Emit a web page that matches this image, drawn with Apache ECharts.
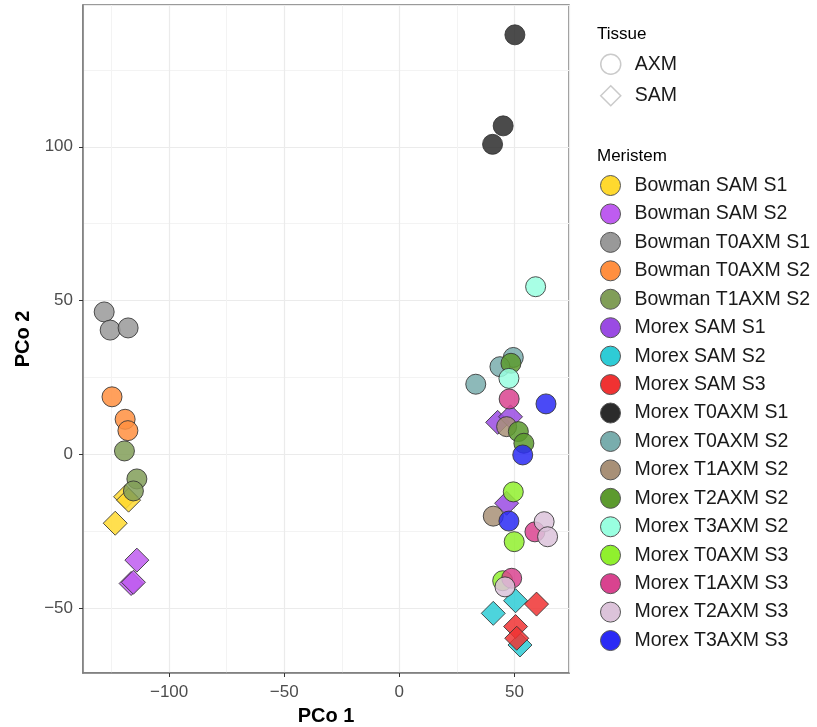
<!DOCTYPE html>
<html>
<head>
<meta charset="utf-8">
<script src="https://cdn.jsdelivr.net/npm/echarts@6/dist/echarts.min.js"></script>
<style>
  html, body { margin: 0; padding: 0; background: #fff; }
  #chart { width: 817px; height: 727px; }
</style>
</head>
<body>
<div id="chart"></div>
<script>
// meristem groups, in legend order
const meristems = [
  'Bowman SAM S1', 'Bowman SAM S2', 'Bowman T0AXM S1', 'Bowman T0AXM S2', 'Bowman T1AXM S2',
  'Morex SAM S1', 'Morex SAM S2', 'Morex SAM S3', 'Morex T0AXM S1', 'Morex T0AXM S2',
  'Morex T1AXM S2', 'Morex T2AXM S2', 'Morex T3AXM S2', 'Morex T0AXM S3', 'Morex T1AXM S3',
  'Morex T2AXM S3', 'Morex T3AXM S3'
];
const colors = [
  '#FFD92F', '#BE5CF0', '#999999', '#FF8F40', '#819E58',
  '#9A4BE3', '#2ECCD6', '#F03232', '#2B2B2B', '#79ADAD',
  '#A89077', '#5C9A2E', '#99FFE0', '#90F02E', '#D9438F',
  '#DCC3DA', '#2A2AF5'
];
const tissues = ['AXM', 'SAM'];

// PCo1 / PCo2 coordinates per meristem
const bowmanSamS1 = [[-118.9, -13.8], [-117.6, -14.9], [-123.4, -22.4]];
const bowmanSamS2 = [[-114.0, -34.4], [-116.5, -42.0], [-115.5, -41.6]];
const bowmanT0S1 = [[-128.2, 46.3], [-125.6, 40.4], [-117.8, 41.1]];
const bowmanT0S2 = [[-124.8, 18.7], [-119.1, 11.4], [-117.9, 7.7]];
const bowmanT1S2 = [[-119.4, 1.1], [-114.0, -8.0], [-115.5, -11.9]];
const morexSamS1 = [[42.7, 10.4], [48.3, 12.2], [46.6, -15.9]];
const morexSamS2 = [[50.5, -47.6], [40.8, -51.7], [52.4, -62.0]];
const morexSamS3 = [[59.6, -48.7], [50.5, -56.0], [51.0, -59.8]];
const morexT0S1 = [[50.2, 136.4], [45.1, 106.8], [40.5, 100.8]];
const morexT0S2 = [[49.5, 31.5], [43.7, 28.5], [33.2, 22.8]];
const morexT1S2 = [[46.6, 9.0], [40.8, -20.1]];
const morexT2S2 = [[48.5, 29.6], [51.7, 7.4], [54.1, 3.6]];
const morexT3S2 = [[59.2, 54.5], [47.6, 24.7]];
const morexT0S3 = [[49.5, -12.2], [49.9, -28.4], [44.9, -41.1]];
const morexT1S3 = [[47.7, 18.0], [58.9, -25.2], [48.8, -40.3]];
const morexT2S3 = [[62.9, -21.9], [64.4, -26.8], [45.9, -43.1]];
const morexT3S3 = [[63.7, 16.4], [53.6, -0.2], [47.6, -21.7]];

const pointSets = [
  bowmanSamS1, bowmanSamS2, bowmanT0S1, bowmanT0S2, bowmanT1S2,
  morexSamS1, morexSamS2, morexSamS3, morexT0S1, morexT0S2,
  morexT1S2, morexT2S2, morexT3S2, morexT0S3, morexT1S3,
  morexT2S3, morexT3S3
];

const font = 'Liberation Sans, Arial, sans-serif';

const series = meristems.map((name, i) => {
  const isSam = name.indexOf('SAM') >= 0;
  return {
    name: name,
    type: 'scatter',
    data: pointSets[i],
    symbol: isSam ? 'diamond' : 'circle',
    symbolSize: isSam ? 24 : 20,
    itemStyle: {
      color: colors[i],
      borderColor: '#333333',
      borderWidth: 1,
      opacity: 0.85
    },
    emphasis: { disabled: true }
  };
});
// empty series that only feed the Tissue legend
tissues.forEach((t) => {
  series.push({
    name: t,
    type: 'scatter',
    data: [],
    itemStyle: { color: '#ffffff', borderColor: '#BDBDBD', borderWidth: 1.5 }
  });
});

// ggplot prints a real minus sign
const minusFmt = (v) => String(v).replace('-', '\u2212');

const axisCommon = {
  type: 'value',
  axisLine: { show: true, onZero: false, lineStyle: { color: '#7A7A7A', width: 1.5 } },
  axisTick: { show: true, length: 4, lineStyle: { color: '#333333', width: 1 } },
  axisLabel: {
    color: '#4D4D4D', fontSize: 17, fontFamily: font,
    showMinLabel: false, showMaxLabel: false, formatter: minusFmt
  },
  splitLine: { show: true, lineStyle: { color: '#EBEBEB', width: 1.2 } },
  minorTick: { show: false, splitNumber: 2 },
  minorSplitLine: { show: true, lineStyle: { color: '#F3F3F3', width: 1 } },
  nameLocation: 'middle',
  nameTextStyle: { color: '#000', fontSize: 20, fontWeight: 'bold', fontFamily: font }
};

const option = {
  animation: false,
  backgroundColor: '#ffffff',
  grid: {
    left: 83, right: 248, top: 5, bottom: 54,
    containLabel: false, outerBoundsMode: 'none',
    show: true, borderColor: '#7A7A7A', borderWidth: 1.5
  },
  title: [
    { text: 'Tissue', left: 592, top: 21, textStyle: { fontSize: 17, fontWeight: 'normal', color: '#000', fontFamily: font } },
    { text: 'Meristem', left: 592, top: 143, textStyle: { fontSize: 17, fontWeight: 'normal', color: '#000', fontFamily: font } }
  ],
  xAxis: Object.assign({}, axisCommon, {
    min: -137.4, max: 73.7,
    name: 'PCo 1', nameGap: 33,
    axisLabel: Object.assign({}, axisCommon.axisLabel, { margin: 11 })
  }),
  yAxis: Object.assign({}, axisCommon, {
    min: -71.1, max: 146.1,
    name: 'PCo 2', nameGap: 48,
    axisLabel: Object.assign({}, axisCommon.axisLabel, { margin: 10 })
  }),
  legend: [
    {
      orient: 'vertical', left: 595, top: 48.5,
      itemWidth: 20, itemHeight: 20, itemGap: 10,
      selectedMode: false,
      data: [
        { name: 'AXM', icon: 'circle', itemStyle: { color: '#fff', borderColor: '#BDBDBD', borderWidth: 1.5 } },
        { name: 'SAM', icon: 'diamond', itemStyle: { color: '#fff', borderColor: '#BDBDBD', borderWidth: 1.5 } }
      ],
      textStyle: { fontSize: 19.5, color: '#1A1A1A', fontFamily: font, padding: [0, 0, 0, 9] }
    },
    {
      orient: 'vertical', left: 595, top: 170,
      itemWidth: 20, itemHeight: 20, itemGap: 7.44,
      selectedMode: false,
      icon: 'circle',
      data: meristems.map((m, i) => ({
        name: m,
        itemStyle: { color: colors[i], borderColor: '#555555', borderWidth: 1, opacity: 1 }
      })),
      textStyle: { fontSize: 19.5, color: '#1A1A1A', fontFamily: font, padding: [0, 0, 0, 9] }
    }
  ],
  series: series
};

const chart = echarts.init(document.getElementById('chart'), null, { renderer: 'canvas', devicePixelRatio: 1 });
chart.setOption(option);
</script>
</body>
</html>
